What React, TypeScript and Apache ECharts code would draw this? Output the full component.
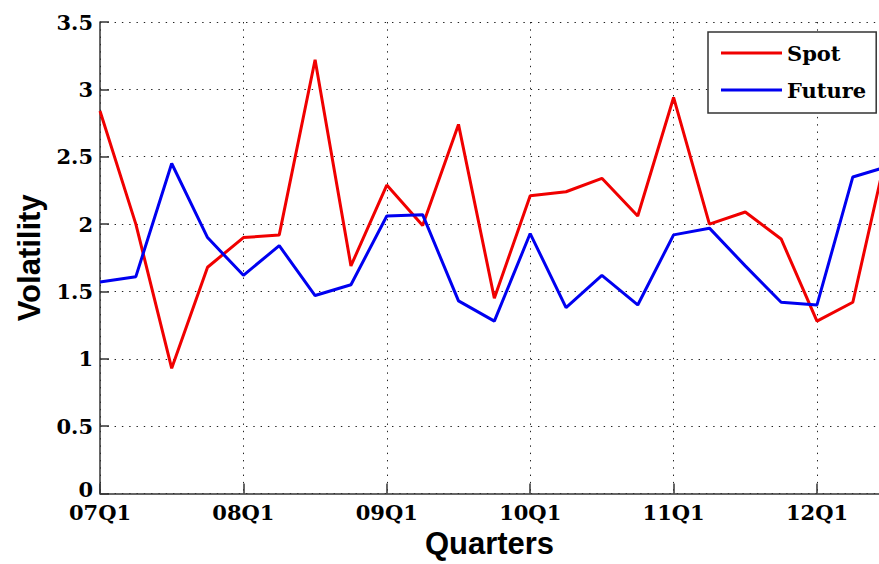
import React, { useEffect, useRef } from "react";
import * as echarts from "echarts";

const quarters = [
  "07Q1", "07Q2", "07Q3", "07Q4",
  "08Q1", "08Q2", "08Q3", "08Q4",
  "09Q1", "09Q2", "09Q3", "09Q4",
  "10Q1", "10Q2", "10Q3", "10Q4",
  "11Q1", "11Q2", "11Q3", "11Q4",
  "12Q1", "12Q2", "12Q3",
];
const spot = [2.84, 2.0, 0.93, 1.68, 1.9, 1.92, 3.22, 1.69, 2.29, 1.99, 2.74, 1.45, 2.21, 2.24, 2.34, 2.06, 2.94, 2.0, 2.09, 1.89, 1.28, 1.42, 2.6];
const future = [1.57, 1.61, 2.45, 1.9, 1.62, 1.84, 1.47, 1.55, 2.06, 2.07, 1.43, 1.28, 1.93, 1.38, 1.62, 1.4, 1.92, 1.97, 1.69, 1.42, 1.4, 2.35, 2.43];
const xMax = 21.73;

const serif = "DejaVu Serif";
const sans = "Liberation Sans";

export default function App() {
  const ref = useRef<HTMLDivElement>(null);
  useEffect(() => {
    const chart = echarts.init(ref.current!, null, { renderer: "svg" });
    const grid = { color: "#222", width: 1, type: [1.4, 5.9] as number[] };
    const tickFont = { fontFamily: serif, fontWeight: "bold" as const, fontSize: 21, color: "#000" };
    chart.setOption({
      animation: false,
      backgroundColor: "#fff",
      grid: { left: 100, right: 0, top: 22, bottom: 68, containLabel: false },
      legend: {
        orient: "vertical",
        left: 708,
        top: 32,
        padding: [9, 10, 11, 13],
        itemGap: 13,
        itemWidth: 61,
        itemHeight: 3,
        icon: "rect",
        borderColor: "#333",
        borderWidth: 1.5,
        backgroundColor: "#fff",
        textStyle: { fontFamily: serif, fontWeight: "bold", fontSize: 21, color: "#000", lineHeight: 24, padding: [0, 0, 0, 0] },
        data: ["Spot", "Future"],
      },
      xAxis: {
        type: "value",
        min: 0,
        max: xMax,
        interval: 4,
        name: "Quarters",
        nameLocation: "middle",
        nameGap: 31,
        nameTextStyle: { fontFamily: sans, fontWeight: "bold", fontSize: 31, color: "#000" },
        axisLine: { lineStyle: { color: "#333", width: 1.5 } },
        axisTick: { inside: true, length: 10, lineStyle: { color: "#333", width: 1.5 } },
        axisLabel: {
          margin: 11,
          lineHeight: 16,
          ...tickFont,
          showMaxLabel: false,
          formatter: (v: number) => (Math.abs(v % 4) < 1e-9 ? quarters[Math.round(v)] : ""),
        },
        splitLine: { show: true, lineStyle: grid },
      },
      yAxis: {
        type: "value",
        min: 0,
        max: 3.5,
        interval: 0.5,
        name: "Volatility",
        nameLocation: "middle",
        nameGap: 55,
        nameTextStyle: { fontFamily: sans, fontWeight: "bold", fontSize: 31, color: "#000" },
        axisLine: { show: true, lineStyle: { color: "#333", width: 1.5 } },
        axisTick: { show: true, inside: true, length: 9, lineStyle: { color: "#333", width: 1.5 } },
        axisLabel: {
          margin: 7,
          lineHeight: 16,
          ...tickFont,
          formatter: (v: number) => (v === 0 ? "{z|0}" : String(v)),
          rich: { z: { ...tickFont, lineHeight: 16, padding: [0, 0, 9, 0] } },
        },
        splitLine: { show: true, lineStyle: grid },
      },
      series: [
        {
          name: "Spot",
          type: "line",
          data: spot.map((v, i) => [i, v]),
          showSymbol: false,
          symbol: "none",
          clip: true,
          lineStyle: { color: "#f00000", width: 3 },
          itemStyle: { color: "#f00000" },
        },
        {
          name: "Future",
          type: "line",
          data: future.map((v, i) => [i, v]),
          showSymbol: false,
          symbol: "none",
          clip: true,
          lineStyle: { color: "#0000f0", width: 3 },
          itemStyle: { color: "#0000f0" },
        },
      ],
    });
    return () => chart.dispose();
  }, []);
  return (
    <div style={{ position: "fixed", left: 0, top: 0, width: 879, height: 564, background: "#fff" }}>
      <div ref={ref} style={{ width: 879, height: 564 }} />
    </div>
  );
}
